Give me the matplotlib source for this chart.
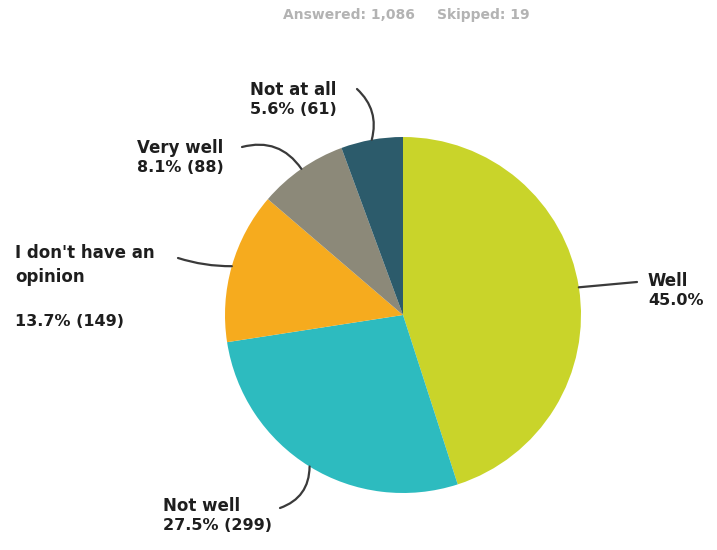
import numpy as np
import matplotlib.pyplot as plt

# survey answers, clockwise from 12 o'clock
answers = ["Well", "Not well", "I don't have an\nopinion", "Very well", "Not at all"]
counts = [489, 299, 149, 88, 61]
colors = ["#c9d42a", "#2dbbbf", "#f6ab1e", "#8c8979", "#2c5b6b"]
answered = 1086
skipped = 19

W, H = 717, 550
fig = plt.figure(figsize=(W / 100, H / 100), dpi=100)
ax = fig.add_axes([0, 0, 1, 1])

cx, cy, r = 403, H - 315, 178
wedges, _ = ax.pie(counts, colors=colors, startangle=90, counterclock=False,
                   center=(cx, cy), radius=r, wedgeprops=dict(linewidth=0))
ax.set_xlim(0, W)
ax.set_ylim(0, H)
ax.set_aspect("equal")
ax.axis("off")

total = sum(counts)
pct = [c / total * 100 for c in counts]

# label block: (left x, top y in pixels from top, leader end in pixels, curve)
layout = [
    (648, 272, (637, 282), 0.0),
    (163, 497, (280, 508), 0.35),
    (15, 244, (178, 258), 0.08),
    (137, 139, (242, 147), -0.35),
    (250, 81, (357, 89), -0.3),
]

frac_start = 0.0
for i, (name, c, p) in enumerate(zip(answers, counts, pct)):
    mid = frac_start + c / total / 2
    frac_start += c / total
    ang = np.deg2rad(90 - mid * 360)
    edge = (cx + r * np.cos(ang), cy + r * np.sin(ang))
    tx, ty, end, rad = layout[i]
    ax.annotate("", xy=edge, xytext=(end[0], H - end[1]),
                arrowprops=dict(arrowstyle="-", color="#3a3a3a", lw=1.6,
                                shrinkA=0, shrinkB=0,
                                connectionstyle=f"arc3,rad={rad}"))
    if name == "Well":
        value = f"{p:.1f}%"
    else:
        value = f"{p:.1f}% ({c})"
    ax.text(tx, H - ty, name, fontsize=12, fontweight="bold", color="#1e1e1e",
            ha="left", va="top", linespacing=1.4)
    gap = 70 if "\n" in name else 21
    ax.text(tx, H - ty - gap, value, fontsize=11.5, fontweight="bold",
            color="#1e1e1e", ha="left", va="top")

ax.text(283, H - 15, f"Answered: {answered:,}", fontsize=10, fontweight="bold",
        color="#b3b3b3", ha="left", va="center")
ax.text(437, H - 15, f"Skipped: {skipped}", fontsize=10, fontweight="bold",
        color="#b3b3b3", ha="left", va="center")

fig.savefig("out.png", dpi=100)
